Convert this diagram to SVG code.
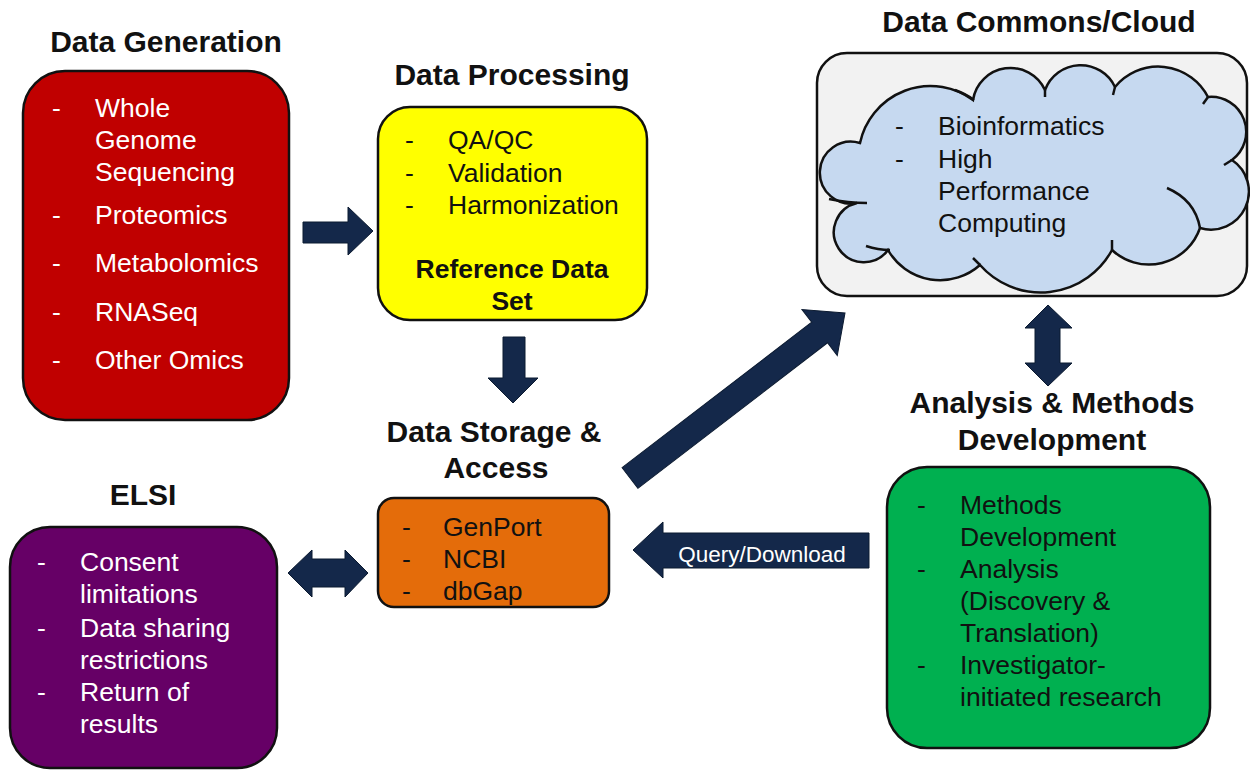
<svg xmlns="http://www.w3.org/2000/svg" width="1250" height="770" viewBox="0 0 1250 770">
<style>
.title{font-family:"Liberation Sans",Arial,sans-serif;font-weight:bold;font-size:30px;fill:#111;text-anchor:middle}
.item{font-family:"Liberation Sans",Arial,sans-serif;font-size:26.5px;fill:#111}
.white{fill:#fff}
.bold{font-weight:bold;text-anchor:middle}
.box{stroke:#111;stroke-width:2.5}
.arrow{fill:#14284a;stroke:#0b1a30;stroke-width:1}
.qlabel{font-family:"Liberation Sans",Arial,sans-serif;font-size:22.5px;fill:#fff;text-anchor:middle}
</style>
<rect width="1250" height="770" fill="#fff"/>

<g id="data-generation">
  <text class="title" x="166" y="52">Data Generation</text>
  <rect class="box" x="23" y="71" width="266" height="349" rx="42" fill="#c00000"/>
  <g class="item white">
    <text x="52" y="117">-</text><text x="95" y="117">Whole</text>
    <text x="95" y="149">Genome</text>
    <text x="95" y="181">Sequencing</text>
    <text x="52" y="224">-</text><text x="95" y="224">Proteomics</text>
    <text x="52" y="272">-</text><text x="95" y="272">Metabolomics</text>
    <text x="52" y="321">-</text><text x="95" y="321">RNASeq</text>
    <text x="52" y="369">-</text><text x="95" y="369">Other Omics</text>
  </g>
</g>

<g id="data-processing">
  <text class="title" x="512" y="85">Data Processing</text>
  <rect class="box" x="378" y="107" width="269" height="213" rx="32" fill="#ffff00"/>
  <g class="item">
    <text x="405" y="149">-</text><text x="448" y="149">QA/QC</text>
    <text x="405" y="182">-</text><text x="448" y="182">Validation</text>
    <text x="405" y="214">-</text><text x="448" y="214">Harmonization</text>
    <text class="bold" x="512" y="278">Reference Data</text>
    <text class="bold" x="512" y="310">Set</text>
  </g>
</g>

<g id="data-commons">
  <text class="title" x="1039" y="32">Data Commons/Cloud</text>
  <rect class="box" x="817" y="53" width="430" height="243" rx="30" fill="#f2f2f2"/>
  <path class="box" fill="#c6d9f0" d="M860,143 A72,72 0 0 1 973,100 A38,38 0 0 1 1045,90 A38,38 0 0 1 1115,87 A56,56 0 0 1 1208,97 A35,35 0 0 1 1232,160 A38,38 0 0 1 1200,228 A54,54 0 0 1 1112,250 A81,81 0 0 1 980,265 A60,60 0 0 1 888,250 A30,30 0 1 1 857,203 A31,31 0 1 1 860,143 Z"/>
  <g fill="none" stroke="#111" stroke-width="2.5">
    <path d="M1167,188 Q1195,200 1200,228"/>
    <path d="M829,199 Q848,203 867,203"/>
    <path d="M866,246 Q878,250 890,250"/>
    <path d="M955,90 Q966,94 974,100"/>
    <path d="M1045,90 L1045,97"/>
    <path d="M1115,87 L1113,95"/>
    <path d="M1208,97 L1203,104"/>
    <path d="M1232,160 L1224,165"/>
    <path d="M1112,250 L1112,240"/>
    <path d="M980,265 L973,258"/>
  </g>
  <g class="item">
    <text x="895" y="135">-</text><text x="938" y="135">Bioinformatics</text>
    <text x="895" y="168">-</text><text x="938" y="168">High</text>
    <text x="938" y="200">Performance</text>
    <text x="938" y="232">Computing</text>
  </g>
</g>

<g id="data-storage">
  <text class="title" x="494" y="442">Data Storage &amp;</text>
  <text class="title" x="496" y="478">Access</text>
  <rect class="box" x="378" y="498" width="231" height="109" rx="16" fill="#e46c0a"/>
  <g class="item">
    <text x="402" y="536">-</text><text x="443" y="536">GenPort</text>
    <text x="402" y="568">-</text><text x="443" y="568">NCBI</text>
    <text x="402" y="600">-</text><text x="443" y="600">dbGap</text>
  </g>
</g>

<g id="elsi">
  <text class="title" x="143" y="505">ELSI</text>
  <rect class="box" x="10" y="527" width="267" height="241" rx="40" fill="#660066"/>
  <g class="item white">
    <text x="37" y="571">-</text><text x="80" y="571">Consent</text>
    <text x="80" y="603">limitations</text>
    <text x="37" y="637">-</text><text x="80" y="637">Data sharing</text>
    <text x="80" y="669">restrictions</text>
    <text x="37" y="701">-</text><text x="80" y="701">Return of</text>
    <text x="80" y="733">results</text>
  </g>
</g>

<g id="analysis">
  <text class="title" x="1052" y="413">Analysis &amp; Methods</text>
  <text class="title" x="1052" y="450">Development</text>
  <rect class="box" x="887" y="467" width="323" height="281" rx="40" fill="#00b050"/>
  <g class="item">
    <text x="917" y="514">-</text><text x="960" y="514">Methods</text>
    <text x="960" y="546">Development</text>
    <text x="917" y="578">-</text><text x="960" y="578">Analysis</text>
    <text x="960" y="610">(Discovery &amp;</text>
    <text x="960" y="642">Translation)</text>
    <text x="917" y="674">-</text><text x="960" y="674">Investigator-</text>
    <text x="960" y="706">initiated research</text>
  </g>
</g>

<g id="connectors">
  <polygon class="arrow" points="303,222 348,222 348,207 373,231 348,255 348,243 303,243"/>
  <polygon class="arrow" points="503,337 525,337 525,378 538,378 513,403 488,378 503,378"/>
  <polygon class="arrow" transform="translate(630,478) rotate(-37.5)" points="0,-13 239,-13 239,-29 271,0 239,29 239,13 0,13"/>
  <polygon class="arrow" points="869,533 663,533 663,522 633,550 663,578 663,568 869,568"/>
  <text class="qlabel" x="762" y="562">Query/Download</text>
  <polygon class="arrow" points="288,573 312,550 312,559 345,559 345,550 368,573 345,597 345,587 312,587 312,597"/>
  <polygon class="arrow" points="1048,305 1072,328 1060,328 1060,363 1072,363 1048,386 1025,363 1035,363 1035,328 1025,328"/>
</g>
</svg>
